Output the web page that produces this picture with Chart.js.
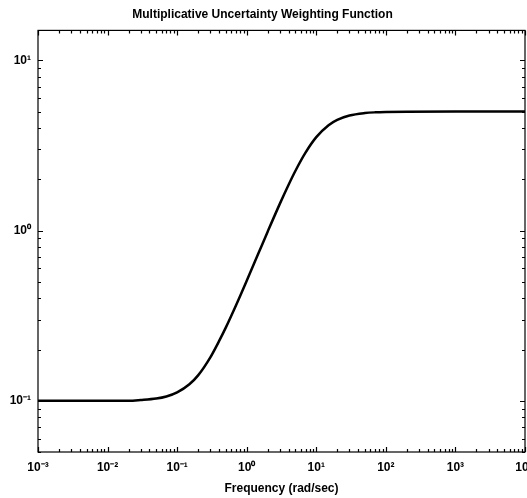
<!DOCTYPE html>
<html>
<head>
<meta charset="utf-8">
<script src="https://cdn.jsdelivr.net/npm/chart.js@4.4.1/dist/chart.umd.min.js"></script>
<style>
  html, body { margin: 0; padding: 0; background: #fff; }
  #wrap { width: 527px; height: 498px; }
</style>
</head>
<body>
<div id="wrap"><canvas id="chart" width="527" height="498"></canvas></div>
<script>
// frequency points (rad/sec) and weight magnitude
var freqs = [0.001, 0.003, 0.01, 0.02, 0.03, 0.05, 0.07, 0.1, 0.15, 0.2, 0.3, 0.4, 0.5, 0.7,
             1, 1.5, 2, 3, 4, 5, 7, 10, 15, 20, 30, 50, 70, 100, 200, 1000, 10000];
var magnitudes = [0.1, 0.1, 0.1, 0.1, 0.101, 0.103, 0.106, 0.112, 0.125, 0.141, 0.18, 0.224, 0.269, 0.363,
                  0.507, 0.748, 0.985, 1.44, 1.86, 2.24, 2.87, 3.54, 4.16, 4.47, 4.74, 4.9, 4.95, 4.975, 4.994, 5.0, 5.0];

var xTicks = [0.001, 0.01, 0.1, 1, 10, 100, 1000, 10000];
var yTicks = [0.1, 1, 10];
var xLimits = [0.001, 10000];
var yLimits = [0.05, 15];

var FONT = 'Liberation Sans, Arial, sans-serif';
var SUP = { '-': '\u207B', '0': '\u2070', '1': '\u00B9', '2': '\u00B2', '3': '\u00B3', '4': '\u2074' };

function powLabel(v) {
    var e = String(Math.round(Math.log10(v)));
    return '10' + e.split('').map(function (c) { return SUP[c]; }).join('');
}

// frame with Matlab style inward ticks on all four sides
var frameTicks = {
    id: 'frameTicks',
    afterDraw: function (chart) {
        var ctx = chart.ctx;
        var a = chart.chartArea;
        var xs = chart.scales.x;
        var ys = chart.scales.y;
        ctx.save();
        ctx.strokeStyle = '#000';
        ctx.lineWidth = 1.2;
        ctx.strokeRect(a.left, a.top, a.right - a.left, a.bottom - a.top);
        ctx.beginPath();
        xTicks.forEach(function (d) {
            for (var m = 1; m < 10; m++) {
                var v = d * m;
                if (v < xLimits[0] || v > xLimits[1]) continue;
                var px = Math.round(xs.getPixelForValue(v)) + 0.5;
                var len = m === 1 ? 5 : 3;
                ctx.moveTo(px, a.bottom); ctx.lineTo(px, a.bottom - len);
                ctx.moveTo(px, a.top); ctx.lineTo(px, a.top + len);
            }
        });
        [0.01].concat(yTicks).forEach(function (d) {
            for (var m = 1; m < 10; m++) {
                var v = d * m;
                if (v < yLimits[0] || v > yLimits[1]) continue;
                var py = Math.round(ys.getPixelForValue(v)) + 0.5;
                var len = m === 1 ? 5 : 3;
                ctx.moveTo(a.left, py); ctx.lineTo(a.left + len, py);
                ctx.moveTo(a.right, py); ctx.lineTo(a.right - len, py);
            }
        });
        ctx.stroke();
        ctx.restore();
    }
};

var points = freqs.map(function (f, i) { return { x: f, y: magnitudes[i] }; });

new Chart(document.getElementById('chart').getContext('2d'), {
    type: 'line',
    data: {
        datasets: [{
            data: points,
            borderColor: '#000',
            borderWidth: 2.5,
            pointRadius: 0,
            cubicInterpolationMode: 'monotone',
            fill: false
        }]
    },
    options: {
        responsive: false,
        animation: false,
        events: [],
        layout: { autoPadding: false, padding: { left: 0, right: 2, top: 0, bottom: 0 } },
        plugins: {
            legend: { display: false },
            tooltip: { enabled: false },
            title: {
                display: true,
                text: 'Multiplicative Uncertainty Weighting Function',
                color: '#000',
                font: { family: FONT, size: 12, weight: 'bold' },
                padding: { top: 7, bottom: 9 }
            }
        },
        scales: {
            x: {
                type: 'logarithmic',
                min: xLimits[0],
                max: xLimits[1],
                afterBuildTicks: function (scale) {
                    scale.ticks = xTicks.map(function (v) { return { value: v }; });
                },
                afterFit: function (scale) {
                    scale.height = 46;
                    scale.paddingLeft = 0;
                    scale.paddingRight = 0;
                },
                grid: { display: false, drawTicks: false },
                border: { display: false },
                ticks: {
                    color: '#000',
                    padding: 8,
                    maxRotation: 0,
                    autoSkip: false,
                    font: { family: FONT, size: 12, weight: 'bold' },
                    callback: function (v) { return powLabel(v); }
                },
                title: {
                    display: true,
                    text: 'Frequency (rad/sec)',
                    color: '#000',
                    font: { family: FONT, size: 12, weight: 'bold' },
                    padding: { top: 3, bottom: 2 }
                }
            },
            y: {
                type: 'logarithmic',
                min: yLimits[0],
                max: yLimits[1],
                afterBuildTicks: function (scale) {
                    scale.ticks = yTicks.map(function (v) { return { value: v }; });
                },
                afterFit: function (scale) {
                    scale.width = 38;
                    scale.paddingTop = 0;
                    scale.paddingBottom = 0;
                },
                grid: { display: false, drawTicks: false },
                border: { display: false },
                ticks: {
                    color: '#000',
                    padding: 7,
                    autoSkip: false,
                    font: { family: FONT, size: 12, weight: 'bold' },
                    callback: function (v) { return powLabel(v); }
                }
            }
        }
    },
    plugins: [frameTicks]
});
</script>
</body>
</html>
